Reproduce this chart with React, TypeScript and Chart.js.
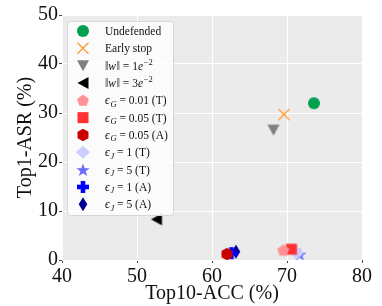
import React, { useEffect, useRef } from 'react';
import { Chart, registerables } from 'chart.js';
Chart.register(...registerables);

// ---- data ----
const seriesNames = [
  'Undefended', 'Early stop', 'w1e-2', 'w3e-2',
  'eG0.01T', 'eG0.05T', 'eG0.05A', 'eJ1T', 'eJ5T', 'eJ1A', 'eJ5A',
];
const accValues = [73.6, 69.6, 68.2, 52.6, 69.5, 70.6, 62.0, 71.3, 71.7, 62.6, 63.2];
const asrValues = [32.0, 29.7, 26.5, 8.3, 2.0, 2.2, 1.2, 1.4, 1.2, 1.4, 1.7];
const seriesColors = [
  '#00a04f', '#ff9a2e', '#808080', '#000000', '#ff9196', '#ff3333',
  '#c80000', '#ccccff', '#6b6bff', '#0000ff', '#00008f',
];
const seriesMarkers = [
  'circle', 'x', 'triDown', 'triLeft', 'pentagon', 'square',
  'hexagon', 'diamond', 'star', 'plus', 'thinDiamond',
];
const xTickValues = [40, 50, 60, 70, 80];
const yTickValues = [0, 10, 20, 30, 40, 50];
const xTitle = 'Top10-ACC (%)';
const yTitle = 'Top1-ASR (%)';

type Seg = { t: string; it?: boolean; sub?: boolean; sup?: boolean };
const legendLabels: Seg[][] = [
  [{ t: 'Undefended' }],
  [{ t: 'Early stop' }],
  [{ t: '‖' }, { t: 'w', it: true }, { t: '‖ = 1' }, { t: 'e', it: true }, { t: '−2', sup: true }],
  [{ t: '‖' }, { t: 'w', it: true }, { t: '‖ = 3' }, { t: 'e', it: true }, { t: '−2', sup: true }],
  [{ t: 'ϵ', it: true }, { t: 'G', it: true, sub: true }, { t: ' = 0.01 (T)' }],
  [{ t: 'ϵ', it: true }, { t: 'G', it: true, sub: true }, { t: ' = 0.05 (T)' }],
  [{ t: 'ϵ', it: true }, { t: 'G', it: true, sub: true }, { t: ' = 0.05 (A)' }],
  [{ t: 'ϵ', it: true }, { t: 'J', it: true, sub: true }, { t: ' = 1 (T)' }],
  [{ t: 'ϵ', it: true }, { t: 'J', it: true, sub: true }, { t: ' = 5 (T)' }],
  [{ t: 'ϵ', it: true }, { t: 'J', it: true, sub: true }, { t: ' = 1 (A)' }],
  [{ t: 'ϵ', it: true }, { t: 'J', it: true, sub: true }, { t: ' = 5 (A)' }],
];

const FONT = '"Liberation Serif", "DejaVu Serif", serif';

function polygon(ctx: CanvasRenderingContext2D, cx: number, cy: number, n: number, r: number, rot: number) {
  ctx.beginPath();
  for (let i = 0; i < n; i++) {
    const a = rot + (i * 2 * Math.PI) / n;
    const x = cx + r * Math.cos(a);
    const y = cy + r * Math.sin(a);
    if (i === 0) ctx.moveTo(x, y); else ctx.lineTo(x, y);
  }
  ctx.closePath();
  ctx.fill();
}

function drawMarker(ctx: CanvasRenderingContext2D, kind: string, cx: number, cy: number, color: string) {
  ctx.save();
  ctx.fillStyle = color;
  ctx.strokeStyle = color;
  switch (kind) {
    case 'circle':
      ctx.beginPath(); ctx.arc(cx, cy, 6, 0, Math.PI * 2); ctx.fill(); break;
    case 'x':
      ctx.lineWidth = 1.3; ctx.beginPath();
      ctx.moveTo(cx - 5.5, cy - 5.5); ctx.lineTo(cx + 5.5, cy + 5.5);
      ctx.moveTo(cx + 5.5, cy - 5.5); ctx.lineTo(cx - 5.5, cy + 5.5);
      ctx.stroke(); break;
    case 'triDown':
      ctx.beginPath(); ctx.moveTo(cx - 6, cy - 5.5); ctx.lineTo(cx + 6, cy - 5.5); ctx.lineTo(cx, cy + 5.5); ctx.closePath(); ctx.fill(); break;
    case 'triLeft':
      ctx.beginPath(); ctx.moveTo(cx - 5.5, cy); ctx.lineTo(cx + 5.5, cy - 6); ctx.lineTo(cx + 5.5, cy + 6); ctx.closePath(); ctx.fill(); break;
    case 'pentagon':
      polygon(ctx, cx, cy + 0.5, 5, 6.2, -Math.PI / 2); break;
    case 'square':
      ctx.fillRect(cx - 5.5, cy - 5.5, 11, 11); break;
    case 'hexagon':
      polygon(ctx, cx, cy, 6, 6.3, -Math.PI / 2); break;
    case 'diamond':
      ctx.beginPath(); ctx.moveTo(cx, cy - 6.5); ctx.lineTo(cx + 7, cy); ctx.lineTo(cx, cy + 6.5); ctx.lineTo(cx - 7, cy); ctx.closePath(); ctx.fill(); break;
    case 'thinDiamond':
      ctx.beginPath(); ctx.moveTo(cx, cy - 7); ctx.lineTo(cx + 4.3, cy); ctx.lineTo(cx, cy + 7); ctx.lineTo(cx - 4.3, cy); ctx.closePath(); ctx.fill(); break;
    case 'star': {
      ctx.beginPath();
      for (let i = 0; i < 10; i++) {
        const r = i % 2 === 0 ? 7 : 2.8;
        const a = -Math.PI / 2 + (i * Math.PI) / 5;
        const x = cx + r * Math.cos(a), y = cy + 0.8 + r * Math.sin(a);
        if (i === 0) ctx.moveTo(x, y); else ctx.lineTo(x, y);
      }
      ctx.closePath(); ctx.fill(); break;
    }
    case 'plus':
      ctx.fillRect(cx - 6, cy - 2.3, 12, 4.6);
      ctx.fillRect(cx - 2.3, cy - 6, 4.6, 12); break;
  }
  ctx.restore();
}

function markerCanvas(kind: string, color: string) {
  const c = document.createElement('canvas');
  c.width = 18; c.height = 18;
  const ctx = c.getContext('2d')!;
  drawMarker(ctx, kind, 9, 9, color);
  return c;
}

function drawRich(ctx: CanvasRenderingContext2D, x: number, baseline: number, segs: Seg[]) {
  let cx = x;
  for (const s of segs) {
    const size = s.sub || s.sup ? 8.5 : 11.5;
    ctx.font = `${s.it ? 'italic ' : ''}${size}px ${FONT}`;
    const y = s.sub ? baseline + 2.5 : s.sup ? baseline - 5 : baseline;
    ctx.fillText(s.t, cx, y);
    cx += ctx.measureText(s.t).width + (s.it && !s.sub && !s.sup ? 0.8 : 0);
  }
}

const bgPlugin = {
  id: 'bg',
  beforeDraw(chart: any) {
    const { ctx, chartArea: a } = chart;
    ctx.save();
    ctx.fillStyle = '#ebebeb';
    ctx.fillRect(a.left, a.top, a.right - a.left, a.bottom - a.top);
    ctx.restore();
  },
};

const legendPlugin = {
  id: 'customLegend',
  afterDraw(chart: any) {
    const ctx: CanvasRenderingContext2D = chart.ctx;
    const a = chart.chartArea;
    const bx = a.left + 5, by = a.top + 6, bw = 106, bh = 194;
    ctx.save();
    ctx.beginPath();
    (ctx as any).roundRect(bx + 0.5, by + 0.5, bw, bh, 3);
    ctx.fillStyle = 'rgba(255,255,255,0.8)';
    ctx.fill();
    ctx.strokeStyle = '#d6d6d6';
    ctx.lineWidth = 1;
    ctx.stroke();
    ctx.fillStyle = '#111';
    ctx.textBaseline = 'alphabetic';
    ctx.textAlign = 'left';
    for (let i = 0; i < legendLabels.length; i++) {
      const cy = by + 10 + i * 17.33;
      drawMarker(ctx, seriesMarkers[i], bx + 16, cy, seriesColors[i]);
      ctx.fillStyle = '#111';
      drawRich(ctx, bx + 38, cy + 4, legendLabels[i]);
    }
    ctx.restore();
  },
};

export default function App() {
  const ref = useRef<HTMLCanvasElement>(null);
  useEffect(() => {
    document.body.style.margin = '0';
    const canvas = ref.current!;
    const datasets = seriesNames.map((name, i) => ({
      label: name,
      data: [{ x: accValues[i], y: asrValues[i] }],
      pointStyle: markerCanvas(seriesMarkers[i], seriesColors[i]) as any,
      backgroundColor: seriesColors[i],
      borderColor: seriesColors[i],
    }));
    const tickFont = { family: FONT, size: 20 };
    const chart = new Chart(canvas, {
      type: 'scatter',
      data: { datasets },
      options: {
        responsive: false,
        animation: false,
        layout: { padding: { top: 15, right: 20, left: 0, bottom: 0 } },
        plugins: { legend: { display: false }, tooltip: { enabled: false } },
        scales: {
          x: {
            type: 'linear', min: xTickValues[0], max: xTickValues[xTickValues.length - 1],
            afterBuildTicks: (s: any) => { s.ticks = xTickValues.map((v) => ({ value: v })); },
            ticks: { font: tickFont, color: '#111', padding: 2, maxRotation: 0 },
            grid: { color: '#ffffff', lineWidth: 1, tickColor: '#444', tickLength: 3 },
            border: { display: false },
            title: { display: true, text: xTitle, font: tickFont, color: '#111', padding: { top: 0, bottom: 0 } },
            afterFit: (s: any) => { s.height = 46; },
          },
          y: {
            type: 'linear', min: yTickValues[0], max: yTickValues[yTickValues.length - 1],
            afterBuildTicks: (s: any) => { s.ticks = yTickValues.map((v) => ({ value: v })); },
            ticks: { font: tickFont, color: '#111', padding: 1 },
            grid: { color: '#ffffff', lineWidth: 1, tickColor: '#444', tickLength: 3 },
            border: { display: false },
            title: { display: true, text: yTitle, font: tickFont, color: '#111', padding: { top: 14, bottom: 0 } },
            afterFit: (s: any) => { s.width = 62; },
          },
        },
      },
      plugins: [bgPlugin, legendPlugin],
    });
    return () => chart.destroy();
  }, []);
  return <canvas ref={ref} width={382} height={306} style={{ display: 'block', width: 382, height: 306 }} />;
}
